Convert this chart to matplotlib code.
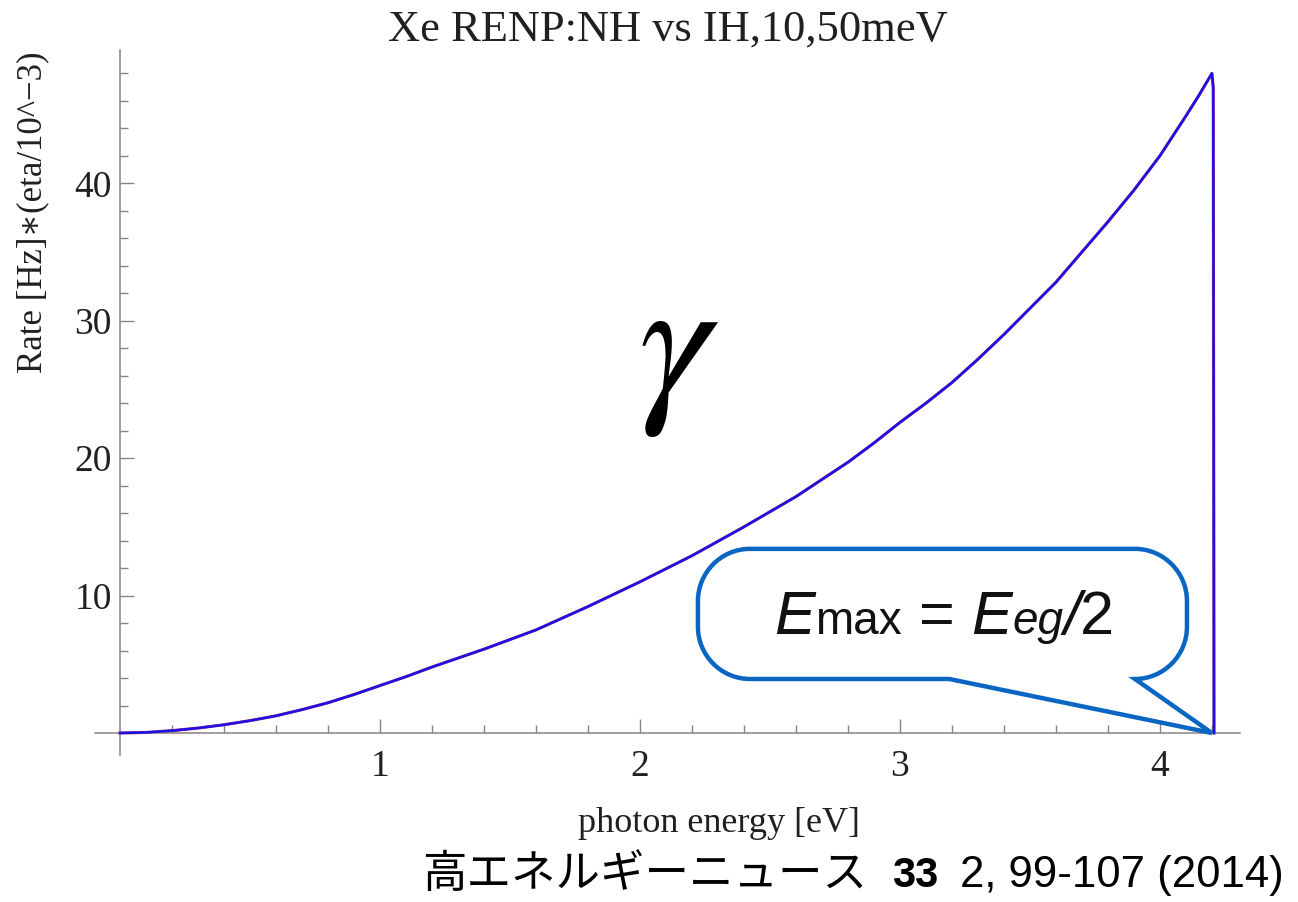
import numpy as np
import matplotlib.pyplot as plt
from matplotlib.path import Path
from matplotlib.patches import PathPatch
from matplotlib.offsetbox import TextArea, HPacker, AnnotationBbox

# spectrum (NH and IH overlap almost exactly)
energy = [0.0, 0.1, 0.2, 0.3, 0.4, 0.5, 0.6, 0.7, 0.8, 0.9,
          1.0, 1.1, 1.2, 1.3, 1.4, 1.5, 1.6, 1.7, 1.8, 1.9,
          2.0, 2.1, 2.2, 2.3, 2.4, 2.5, 2.6, 2.7, 2.8, 2.9,
          3.0, 3.1, 3.2, 3.3, 3.4, 3.5, 3.6, 3.7, 3.8, 3.9,
          4.0, 4.1, 4.15, 4.2, 4.205, 4.207, 4.208]
rate_nh = [0.0, 0.04, 0.17, 0.36, 0.6, 0.9, 1.25, 1.7, 2.2, 2.8,
           3.45, 4.1, 4.8, 5.45, 6.1, 6.8, 7.5, 8.35, 9.2, 10.1,
           11.0, 11.95, 12.9, 13.95, 15.0, 16.1, 17.2, 18.45, 19.7, 21.1,
           22.6, 24.0, 25.5, 27.2, 29.0, 30.9, 32.8, 35.0, 37.2, 39.5,
           42.0, 44.9, 46.4, 48.0, 47.0, 20.0, 0.0]
rate_ih = rate_nh

x_major = [1, 2, 3, 4]
y_major = [10, 20, 30, 40]
e_max = 4.2

title = 'Xe RENP:NH vs IH,10,50meV'
xlabel = 'photon energy [eV]'
ylabel = 'Rate [Hz]\u2217(eta/10^\u22123)'
citation_jp = '高エネルギーニュース'
citation_vol = '33'
citation_rest = '2, 99-107 (2014)'

plt.rcParams['font.family'] = ['Liberation Serif', 'DejaVu Serif']
plt.rcParams['mathtext.fontset'] = 'stix'

W, H = 1298, 902
fig = plt.figure(figsize=(W / 100, H / 100), dpi=100)
ax = fig.add_axes([95 / W, 1 - 755 / H, (1240 - 95) / W, (755 - 50) / H])

ax.plot(energy, rate_nh, color='#c0306a', lw=2.2, zorder=2, solid_joinstyle='round')
ax.plot(energy, rate_ih, color='#1a10e8', lw=1.8, zorder=3, solid_joinstyle='round')

ax.set_xlim(-0.096, 4.308)
ax.set_ylim(-1.6, 49.7)

for s in ['top', 'right']:
    ax.spines[s].set_visible(False)
ax.spines['left'].set_position(('data', 0))
ax.spines['bottom'].set_position(('data', 0))
for s in ['left', 'bottom']:
    ax.spines[s].set_color('#8a8480')
    ax.spines[s].set_linewidth(1.1)

ax.set_xticks(x_major)
ax.set_yticks(y_major)
ax.set_xticks([v for v in np.arange(0.2, 4.3, 0.2) if abs(v - round(v)) > 0.05], minor=True)
ax.set_yticks([v for v in range(2, 50, 2) if v % 10], minor=True)
ax.tick_params(which='both', direction='in', color='#8a8480', width=1.0,
               labelsize=27, labelcolor='#231f20')
ax.tick_params(which='major', length=10)
ax.tick_params(which='minor', length=6)
ax.tick_params(axis='x', pad=12)
ax.tick_params(axis='y', pad=6)

ax.set_title(title, fontsize=32, color='#231f20', pad=3)
fig.text(719 / W, 1 - 832 / H, xlabel, fontsize=26, color='#231f20', ha='center', va='baseline')
fig.text(33 / W, 1 - 212 / H, ylabel, fontsize=25, color='#231f20', rotation=90,
         ha='center', va='center')

# big gamma
ax.text(2.15, 27.3, r'$\gamma$', fontsize=130, ha='center', va='center', color='black')

# speech bubble pointing at the end point
x0, x1, y0, y1 = 2.223, 4.104, 3.93, 13.4
rx, ry = 0.2, 3.8
k = 0.55
tail_left = 3.19
verts = [
    (x0 + rx, y1), (x1 - rx, y1),
    (x1 - rx + k * rx, y1), (x1, y1 - ry + k * ry), (x1, y1 - ry),
    (x1, y0 + ry),
    (x1, y0 + ry - k * ry), (x1 - rx + k * rx, y0), (x1 - rx, y0),
    (e_max, 0),
    (tail_left, y0),
    (x0 + rx, y0),
    (x0 + rx - k * rx, y0), (x0, y0 + ry - k * ry), (x0, y0 + ry),
    (x0, y1 - ry),
    (x0, y1 - ry + k * ry), (x0 + rx - k * rx, y1), (x0 + rx, y1),
    (x0 + rx, y1),
]
codes = [Path.MOVETO, Path.LINETO,
         Path.CURVE4, Path.CURVE4, Path.CURVE4,
         Path.LINETO,
         Path.CURVE4, Path.CURVE4, Path.CURVE4,
         Path.LINETO, Path.LINETO, Path.LINETO,
         Path.CURVE4, Path.CURVE4, Path.CURVE4,
         Path.LINETO,
         Path.CURVE4, Path.CURVE4, Path.CURVE4,
         Path.CLOSEPOLY]
ax.add_patch(PathPatch(Path(verts, codes), facecolor='white', edgecolor='#0a66c2',
                       lw=3.2, joinstyle='miter', zorder=4))

sans = ['Liberation Sans', 'DejaVu Sans']
big, small = 44, 33
parts = [
    ('E', big, 'italic'), ('max', small, 'normal'), (' = ', big, 'normal'),
    ('E', big, 'italic'), ('eg', small, 'italic'), ('/', big, 'italic'), ('2', big, 'normal'),
]
boxes = [TextArea(t, textprops=dict(fontsize=s, fontstyle=st, family=sans, color='#111111'))
         for t, s, st in parts]
pack = HPacker(children=boxes, align='baseline', pad=0, sep=0)
ax.add_artist(AnnotationBbox(pack, (3.17, 8.3), xycoords='data', frameon=False,
                             box_alignment=(0.5, 0.5), pad=0, zorder=5))

# citation line
cy = 1 - 887 / H
fig.text(422 / W, cy, citation_jp, fontsize=32, family=['Noto Sans CJK JP', 'DejaVu Sans'],
         ha='left', va='baseline', color='black')
fig.text(938 / W, cy, citation_vol, fontsize=30, fontweight='bold',
         family=['Liberation Sans', 'DejaVu Sans'], ha='right', va='baseline', color='black')
fig.text(1284 / W, cy, citation_rest, fontsize=31.5,
         family=['Liberation Sans', 'DejaVu Sans'], ha='right', va='baseline', color='black')

fig.savefig('out.png', dpi=100)
